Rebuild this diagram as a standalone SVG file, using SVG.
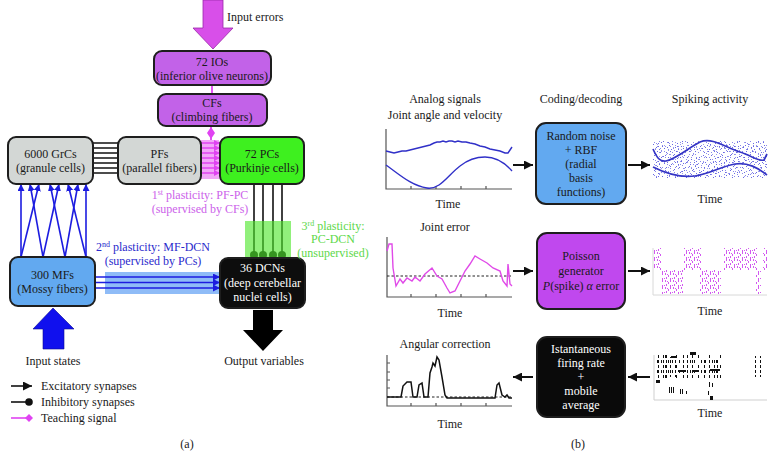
<svg xmlns="http://www.w3.org/2000/svg" width="776" height="470" viewBox="0 0 776 470" font-family="'Liberation Serif','Times New Roman','DejaVu Serif',serif">
<defs>
<style>
text{font-family:"Liberation Serif","Times New Roman","DejaVu Serif",serif;font-size:12px;fill:#1a1a1a}
.c{text-anchor:middle}
.w{fill:#fff}
.box{stroke:#1e1e1e;stroke-width:2}
.io{fill:#c262e8}
.grey{fill:#d3d7d5}
.pc{fill:#3ef01f}
.mf{fill:#62a9f0}
.dcn{fill:#0d0d0d}
.blue{stroke:#1c1ce0;stroke-width:1.6;fill:none;marker-end:url(#abl)}
.mag{stroke:#e043f2;stroke-width:1.5;fill:none;marker-end:url(#am)}
.axis{stroke:#555;stroke-width:1.2;fill:none}
.arr{stroke:#111;stroke-width:2;fill:none;marker-end:url(#ab)}
.sup{font-size:8px}
</style>
<marker id="abl" viewBox="0 0 10 10" refX="10" refY="5" markerWidth="7" markerHeight="7" markerUnits="userSpaceOnUse" orient="auto"><path d="M0,0 L10,5 L0,10 z" fill="#1c1ce0"/></marker>
<marker id="am" viewBox="0 0 10 10" refX="10" refY="5" markerWidth="6" markerHeight="6" markerUnits="userSpaceOnUse" orient="auto"><path d="M0,0 L10,5 L0,10 z" fill="#e043f2"/></marker>
<marker id="ab" viewBox="0 0 10 10" refX="10" refY="5" markerWidth="9" markerHeight="9" markerUnits="userSpaceOnUse" orient="auto"><path d="M0,0 L10,5 L0,10 z" fill="#111"/></marker>
<pattern id="n1" width="19" height="15" patternUnits="userSpaceOnUse"><path fill="#6a6ae2" d="M1,2h1v1h-1z M5,1h1v1h-1z M9,4h1v1h-1z M14,2h1v1h-1z M17,6h1v1h-1z M3,7h1v1h-1z M7,9h1v1h-1z M12,8h1v1h-1z M16,11h1v1h-1z M2,12h1v1h-1z M6,14h1v1h-1z M10,12h1v1h-1z M13,14h1v1h-1z M18,13h1v1h-1z M8,5h1v1h-1z M11,1h1v1h-1z M4,10h1v1h-1z M15,7h1v1h-1z M0,5h1v1h-1z M12,11h1v1h-1z"/></pattern>
<pattern id="n2" width="13" height="11" patternUnits="userSpaceOnUse"><path fill="#8a8aea" d="M2,3h1v1h-1z M6,0h1v1h-1z M10,5h1v1h-1z M1,8h1v1h-1z M5,6h1v1h-1z M9,9h1v1h-1z M12,2h1v1h-1z M7,3h1v1h-1z M4,10h1v1h-1z M11,7h1v1h-1z"/></pattern>
<pattern id="n3" width="23" height="17" patternUnits="userSpaceOnUse"><path fill="#9a9aee" d="M3,1h1v1h-1z M8,6h1v1h-1z M15,3h1v1h-1z M20,9h1v1h-1z M1,14h1v1h-1z M11,12h1v1h-1z M17,15h1v1h-1z M6,11h1v1h-1z M13,8h1v1h-1z M22,1h1v1h-1z"/></pattern>
<pattern id="mp" width="8" height="7" patternUnits="userSpaceOnUse"><path fill="#d25af0" d="M1,0h1v2h-1z M4,2h1v2h-1z M6,0h1v2h-1z M2,4h1v2h-1z M6,5h1v2h-1z M0,5h1v1h-1z M3,1h1v1h-1z"/></pattern>
<pattern id="bp" width="17" height="5" patternUnits="userSpaceOnUse"><path fill="#111" d="M0,0h1v3h-1z M3,0h1v3h-1z M7,0h1v3h-1z M12,0h1v3h-1z"/></pattern>
<pattern id="bp2" width="11" height="10" patternUnits="userSpaceOnUse"><path fill="#111" d="M1,0h1v3h-1z M5,5h1v3h-1z M8,0h1v3h-1z"/></pattern>
</defs>
<rect width="776" height="470" fill="#fff"/>

<!-- ===== (a) connectors ===== -->
<g id="connectors">
  <polygon points="203,0 223,0 223,28 233,28 213,49 193,28 203,28" fill="#d84fe9" stroke="#9a2aa8" stroke-width="0.8"/>
  <line x1="212" y1="85" x2="212" y2="94" stroke="#e043f2" stroke-width="1.8"/>
  <line x1="211" y1="126" x2="211" y2="141" stroke="#e043f2" stroke-width="1.8"/>
  <polygon points="211,127 215,133 211,139 207,133" fill="#e043f2"/>
  <g stroke="#111" stroke-width="1.5">
    <line x1="93" y1="143" x2="118" y2="143"/><line x1="93" y1="148" x2="118" y2="148"/>
    <line x1="93" y1="153" x2="118" y2="153"/><line x1="93" y1="158" x2="118" y2="158"/>
    <line x1="93" y1="163" x2="118" y2="163"/><line x1="93" y1="168" x2="118" y2="168"/>
    <line x1="93" y1="173" x2="118" y2="173"/>
  </g>
  <rect x="201" y="140" width="18" height="39" fill="#f2a6f8"/>
  <line class="mag" x1="201" y1="143" x2="220" y2="143"/><line class="mag" x1="201" y1="148" x2="220" y2="148"/>
  <line class="mag" x1="201" y1="153" x2="220" y2="153"/><line class="mag" x1="201" y1="158" x2="220" y2="158"/>
  <line class="mag" x1="201" y1="163" x2="220" y2="163"/><line class="mag" x1="201" y1="168" x2="220" y2="168"/>
  <line class="mag" x1="201" y1="173" x2="220" y2="173"/>
  <line class="blue" x1="21" y1="257" x2="21" y2="184"/>
  <line class="blue" x1="21" y1="257" x2="39" y2="184"/>
  <line class="blue" x1="43" y1="257" x2="30" y2="184"/>
  <line class="blue" x1="43" y1="257" x2="59" y2="184"/>
  <line class="blue" x1="65" y1="257" x2="50" y2="184"/>
  <line class="blue" x1="65" y1="257" x2="78" y2="184"/>
  <line class="blue" x1="86" y1="257" x2="68" y2="184"/>
  <line class="blue" x1="86" y1="257" x2="86" y2="184"/>
  <rect x="105" y="272" width="115" height="22" fill="#6aa6f4" opacity="0.75"/>
  <line class="blue" x1="95" y1="277" x2="220" y2="277"/>
  <line class="blue" x1="95" y1="282.5" x2="220" y2="282.5"/>
  <line class="blue" x1="95" y1="288" x2="220" y2="288"/>
  <g stroke="#111" stroke-width="1.6">
    <line x1="254" y1="183" x2="254" y2="255"/><line x1="263" y1="183" x2="263" y2="255"/>
    <line x1="273" y1="183" x2="273" y2="255"/><line x1="282" y1="183" x2="282" y2="255"/>
  </g>
  <g fill="#111"><circle cx="254" cy="255" r="4"/><circle cx="263" cy="255" r="4"/><circle cx="273" cy="255" r="4"/><circle cx="282" cy="255" r="4"/></g>
  <rect x="245" y="221" width="46" height="45" fill="#4ee62a" opacity="0.62"/>
  <polygon points="53,308 74,329 64,329 64,349 43,349 43,329 33,329" fill="#1010ee" stroke="#0a0a90" stroke-width="0.6"/>
  <polygon points="253,310 273,310 273,330 283,330 263,351 243,330 253,330" fill="#000"/>
</g>

<!-- ===== (a) nodes ===== -->
<g id="io"><rect class="box io" x="154" y="51" width="117" height="34" rx="8"/>
  <text class="c" x="212" y="66">72 IOs</text><text class="c" x="212" y="80">(inferior olive neurons)</text></g>
<g id="cf"><rect class="box io" x="158" y="94" width="109" height="32" rx="8"/>
  <text class="c" x="212" y="107">CFs</text><text class="c" x="212" y="121">(climbing fibers)</text></g>
<g id="grc"><rect class="box grey" x="8" y="137" width="85" height="47" rx="8"/>
  <text class="c" x="50.5" y="158">6000 GrCs</text><text class="c" x="50.5" y="172">(granule cells)</text></g>
<g id="pf"><rect class="box grey" x="118" y="137" width="83" height="47" rx="8"/>
  <text class="c" x="159.5" y="158">PFs</text><text class="c" x="159.5" y="172">(parallel fibers)</text></g>
<g id="pc"><rect class="box pc" x="220" y="137" width="84" height="47" rx="8"/>
  <text class="c" x="262" y="158">72 PCs</text><text class="c" x="262" y="172">(Purkinje cells)</text></g>
<g id="mf"><rect class="box mf" x="10" y="257" width="85" height="49" rx="8"/>
  <text class="c" x="52.5" y="279">300 MFs</text><text class="c" x="52.5" y="293">(Mossy fibers)</text></g>
<g id="dcn"><rect class="box dcn" x="220" y="258" width="85" height="50" rx="8"/>
  <text class="c w" x="262.5" y="272">36 DCNs</text><text class="c w" x="262.5" y="287">(deep cerebellar</text><text class="c w" x="262.5" y="301">nuclei cells)</text></g>

<g id="labels-a">
  <text x="227" y="21">Input errors</text>
  <text class="c" x="200" y="199" style="fill:#cc62ea">1<tspan class="sup" dy="-4">st</tspan><tspan dy="4"> plasticity: PF-PC</tspan></text>
  <text class="c" x="200" y="213" style="fill:#cc62ea">(supervised by CFs)</text>
  <text class="c" x="153" y="251" style="fill:#2a2acc">2<tspan class="sup" dy="-4">nd</tspan><tspan dy="4"> plasticity: MF-DCN</tspan></text>
  <text class="c" x="153" y="265" style="fill:#2a2acc">(supervised by PCs)</text>
  <text class="c" x="333" y="230" style="fill:#5ed84a">3<tspan class="sup" dy="-4">rd</tspan><tspan dy="4"> plasticity:</tspan></text>
  <text class="c" x="333" y="243" style="fill:#5ed84a">PC-DCN</text>
  <text class="c" x="333" y="257" style="fill:#5ed84a">(unsupervised)</text>
  <text class="c" x="53" y="365">Input states</text>
  <text class="c" x="264" y="365">Output variables</text>
  <line x1="11" y1="386" x2="32" y2="386" stroke="#111" stroke-width="1.6" marker-end="url(#ab)"/>
  <line x1="11" y1="402" x2="29" y2="402" stroke="#111" stroke-width="1.6"/><circle cx="29" cy="402" r="3.8" fill="#111"/>
  <line x1="11" y1="418" x2="29" y2="418" stroke="#e043f2" stroke-width="1.6"/><polygon points="29,414 33,418 29,422 25,418" fill="#e043f2"/>
  <text x="41" y="390">Excitatory synapses</text>
  <text x="41" y="406">Inhibitory synapses</text>
  <text x="41" y="422">Teaching signal</text>
  <text class="c" x="187" y="448">(a)</text>
</g>

<!-- ===== (b) ===== -->
<g id="headers-b">
  <text class="c" x="445" y="103">Analog signals</text>
  <text class="c" x="445" y="119">Joint angle and velocity</text>
  <text class="c" x="581" y="103">Coding/decoding</text>
  <text class="c" x="710" y="103">Spiking activity</text>
</g>

<g id="plot1">
  <path class="axis" d="M386,129 V189 H512 M411,189 v-3 M436,189 v-3 M461,189 v-3 M486,189 v-3"/>
  <path fill="none" stroke="#3030c8" stroke-width="1.4" d="M386,151 L390,152 L394,153 L398,152 L402,151 L406,151 L410,150 L414,149 L418,148 L422,147 L426,146 L430,145 L434,143 L437,142 L440,142 L443,141 L446,142 L449,141 L452,141 L455,142 L458,141 L462,142 L466,142 L470,143 L475,144 L480,146 L485,147 L490,149 L495,150 L500,151 L505,153 L508,153 L510,150 L512,147"/>
  <path fill="none" stroke="#3030c8" stroke-width="1.4" d="M386,165 C400,175 412,186 427,188 C440,190 448,175 460,166 C470,158 478,157 485,157 C497,157 505,163 512,171"/>
  <text class="c" x="448" y="208">Time</text>
</g>
<g id="rbf"><rect class="box" fill="#62a9f0" x="536" y="123" width="90" height="81" rx="10"/>
  <text class="c" x="581" y="140">Random noise</text><text class="c" x="581" y="154">+ RBF</text><text class="c" x="581" y="168">(radial</text><text class="c" x="581" y="182">basis</text><text class="c" x="581" y="196">functions)</text></g>
<g id="raster1">
  <rect x="653" y="141" width="114" height="37" fill="url(#n1)"/>
  <rect x="653" y="141" width="114" height="37" fill="url(#n2)"/>
  <rect x="653" y="141" width="114" height="37" fill="url(#n3)"/>
  <path fill="none" stroke="#3535c5" stroke-width="1.7" d="M653,149 C657,158 660,162 666,161 C678,158 688,148 700,142 C712,137 725,147 740,152 C752,156 760,162 764,160 L767,154"/>
  <path fill="none" stroke="#3535c5" stroke-width="1.7" d="M653,167 C665,173 680,178 695,176 C710,174 722,166 735,164 C748,162 758,168 767,175"/>
  <text class="c" x="710" y="203">Time</text>
</g>

<text class="c" x="445" y="231">Joint error</text>
<g id="plot2">
  <path class="axis" d="M387,237 V297 H512 M411,297 v-3 M436,297 v-3 M461,297 v-3 M486,297 v-3"/>
  <line x1="387" y1="276" x2="512" y2="276" stroke="#222" stroke-width="1" stroke-dasharray="2.5,2"/>
  <polyline fill="none" stroke="#e04ae8" stroke-width="1.4" points="387,251 389,244 392,244 393,268 396,286 400,279 403,283 407,278 412,281 415,277 420,281 425,274 432,268 437,276 442,279 447,288 450,293 455,291 460,281 465,271 470,264 475,256 480,259 487,263 493,268 500,271 503,281 507,286 508,264 510,284 512,286"/>
  <text class="c" x="450" y="317">Time</text>
</g>
<g id="poisson"><rect class="box" fill="#c048ee" x="537" y="233" width="88" height="76" rx="10"/>
  <text class="c" x="581" y="260">Poisson</text><text class="c" x="581" y="275">generator</text>
  <text class="c" x="581" y="290"><tspan font-style="italic">P</tspan>(spike) <tspan font-style="italic">α</tspan> error</text></g>
<g id="raster2">
  <g fill="url(#mp)">
    <rect x="653" y="248" width="8" height="22"/><rect x="684" y="248" width="17" height="22"/>
    <rect x="724" y="248" width="33" height="22"/><rect x="763" y="248" width="5" height="22"/>
    <rect x="661" y="270" width="22" height="24"/><rect x="700" y="270" width="21" height="24"/>
    <rect x="756" y="270" width="5" height="24"/>
  </g>
  <path d="M653,248 V295 H767" fill="none" stroke="#d8d8d8" stroke-width="1"/>
  <text class="c" x="710" y="315">Time</text>
</g>

<text class="c" x="445" y="348">Angular correction</text>
<g id="plot3">
  <path class="axis" d="M387,355 V406 H512 M411,406 v-3 M436,406 v-3 M461,406 v-3 M486,406 v-3 M387,363 h3 M387,372 h3 M387,380 h3 M387,388 h3"/>
  <line x1="387" y1="397" x2="512" y2="397" stroke="#222" stroke-width="1" stroke-dasharray="2.5,2"/>
  <polyline fill="none" stroke="#111" stroke-width="1.5" points="387,397 401,397 403,386 407,382 411,382 413,397 417,397 419,385 422,383 424,397 428,397 430,373 432,367 433,363 435,366 437,357 439,360 442,377 445,395 447,398 495,398 497,385 499,383 502,395 505,397 507,395 509,398 512,398"/>
  <text class="c" x="450" y="428">Time</text>
</g>
<g id="rate"><rect class="box" fill="#0a0a0a" x="537" y="337" width="88" height="80" rx="10"/>
  <text class="c w" x="581" y="353">Istantaneous</text><text class="c w" x="581" y="367">firing rate</text><text class="c w" x="581" y="381">+</text><text class="c w" x="581" y="395">mobile</text><text class="c w" x="581" y="409">average</text></g>
<g id="raster3">
  <path d="M654,355 V400 H767" fill="none" stroke="#cfcfcf" stroke-width="1"/>
  <g fill="url(#bp)">
    <rect x="656" y="355" width="12" height="25"/><rect x="670" y="357" width="8" height="20"/>
    <rect x="681" y="355" width="14" height="25"/><rect x="703" y="360" width="18" height="20"/>
    <rect x="752" y="356" width="13" height="21"/>
  </g>
  <g fill="url(#bp2)"><rect x="656" y="355" width="66" height="25"/></g>
  <g fill="#111">
    <rect x="690" y="352" width="6" height="3"/><rect x="678" y="370" width="8" height="2"/>
    <rect x="693" y="370" width="6" height="2"/><rect x="710" y="369" width="10" height="2"/>
    <rect x="671" y="356" width="5" height="2"/><rect x="656" y="380" width="4" height="3"/>
    <rect x="669" y="387" width="1" height="6"/><rect x="671" y="387" width="1" height="6"/><rect x="673" y="387" width="1" height="6"/>
    <rect x="680" y="389" width="1" height="5"/><rect x="682" y="389" width="1" height="5"/><rect x="686" y="391" width="1" height="3"/>
    <rect x="709" y="382" width="1" height="5"/><rect x="712" y="383" width="1" height="4"/><rect x="708" y="391" width="1" height="4"/><rect x="710" y="396" width="3" height="4"/>
  </g>
  <text class="c" x="710" y="417">Time</text>
</g>

<g id="arrows-b">
  <line class="arr" x1="513" y1="165" x2="533" y2="165"/>
  <line class="arr" x1="628" y1="165" x2="650" y2="165"/>
  <line class="arr" x1="513" y1="271" x2="533" y2="271"/>
  <line class="arr" x1="628" y1="271" x2="650" y2="271"/>
  <line class="arr" x1="533" y1="377" x2="513" y2="377"/>
  <line class="arr" x1="650" y1="377" x2="628" y2="377"/>
</g>
<text class="c" x="578" y="448">(b)</text>
</svg>
